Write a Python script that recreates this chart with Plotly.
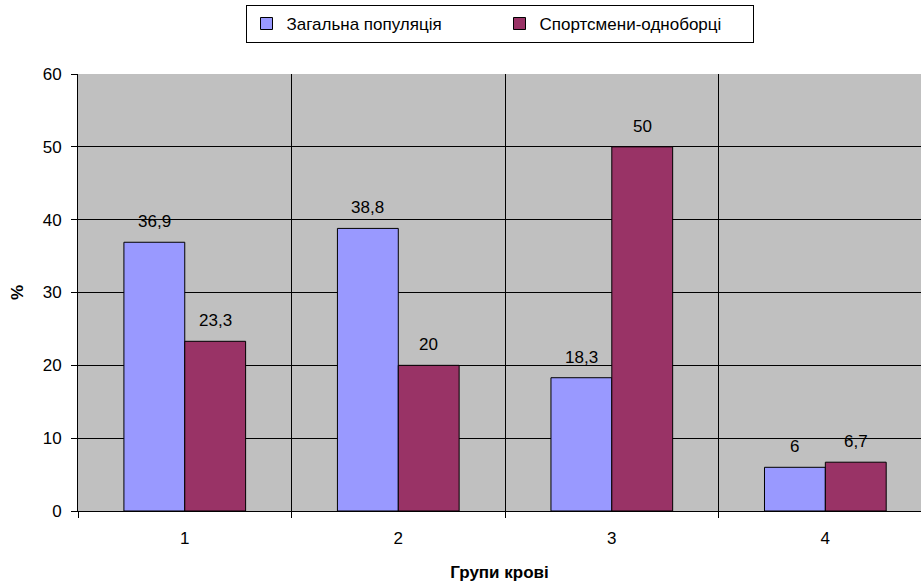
import plotly.graph_objects as go

categories = ["1", "2", "3", "4"]
general = [36.9, 38.8, 18.3, 6]
athletes = [23.3, 20, 50, 6.7]
general_labels = ["36,9", "38,8", "18,3", "6"]
athlete_labels = ["23,3", "20", "50", "6,7"]

font = "Liberation Sans, Arial, sans-serif"
fs = 17

W, H = 921, 582
ML, MR, MT, MB = 78, 0, 74, 71
x_range = [-0.5, 3.448]
bargap = 0.43

plot_w = W - ML - MR
cat_px = plot_w / (x_range[1] - x_range[0])
bar_px = cat_px * (1 - bargap) / 2

fig = go.Figure()
fig.add_trace(go.Bar(
    x=categories, y=general, name="Загальна популяція",
    marker=dict(color="#9999FF", line=dict(color="#000000", width=1)),
))
fig.add_trace(go.Bar(
    x=categories, y=athletes, name="Спортсмени-одноборці",
    marker=dict(color="#993366", line=dict(color="#000000", width=1)),
))

annotations = []
for series, labels, sign in ((general, general_labels, -1), (athletes, athlete_labels, 1)):
    for i, (v, t) in enumerate(zip(series, labels)):
        annotations.append(dict(
            x=i, y=v, xref="x", yref="y", text=t, showarrow=False,
            xanchor="center", yanchor="bottom",
            xshift=sign * bar_px / 2, yshift=9,
            font=dict(size=fs, color="#000000", family=font),
        ))

fig.update_layout(
    width=W, height=H,
    margin=dict(l=ML, r=MR, t=MT, b=MB),
    paper_bgcolor="#FFFFFF", plot_bgcolor="#C0C0C0",
    barmode="group", bargap=bargap, bargroupgap=0,
    font=dict(family=font, size=fs, color="#000000"),
    showlegend=True,
    annotations=annotations,
    legend=dict(
        orientation="h", x=0.5, xanchor="center", y=1.158, yanchor="top",
        bordercolor="#000000", borderwidth=1, bgcolor="#FFFFFF",
        font=dict(size=fs, family=font), traceorder="normal",
        entrywidth=208, itemwidth=30,
    ),
    xaxis=dict(
        type="category", tickson="boundaries", range=x_range,
        showgrid=True, gridcolor="#000000", gridwidth=1,
        ticks="outside", ticklen=6, tickcolor="#000000",
        showline=True, linecolor="#000000", linewidth=1,
        ticklabelstandoff=12,
        title=dict(text="<b>Групи крові</b>", font=dict(size=fs), standoff=19),
        tickfont=dict(size=fs),
    ),
    yaxis=dict(
        range=[0, 60], dtick=10,
        showgrid=True, gridcolor="#000000", gridwidth=1,
        ticks="outside", ticklen=6, tickcolor="#000000",
        showline=True, linecolor="#000000", linewidth=1,
        zeroline=False, ticklabelstandoff=6,
        title=dict(text="<b>%</b>", font=dict(size=fs), standoff=14),
        tickfont=dict(size=fs),
    ),
)

fig.write_html("out.html", config={"displayModeBar": False},
               post_script="document.body.style.margin='0';")
